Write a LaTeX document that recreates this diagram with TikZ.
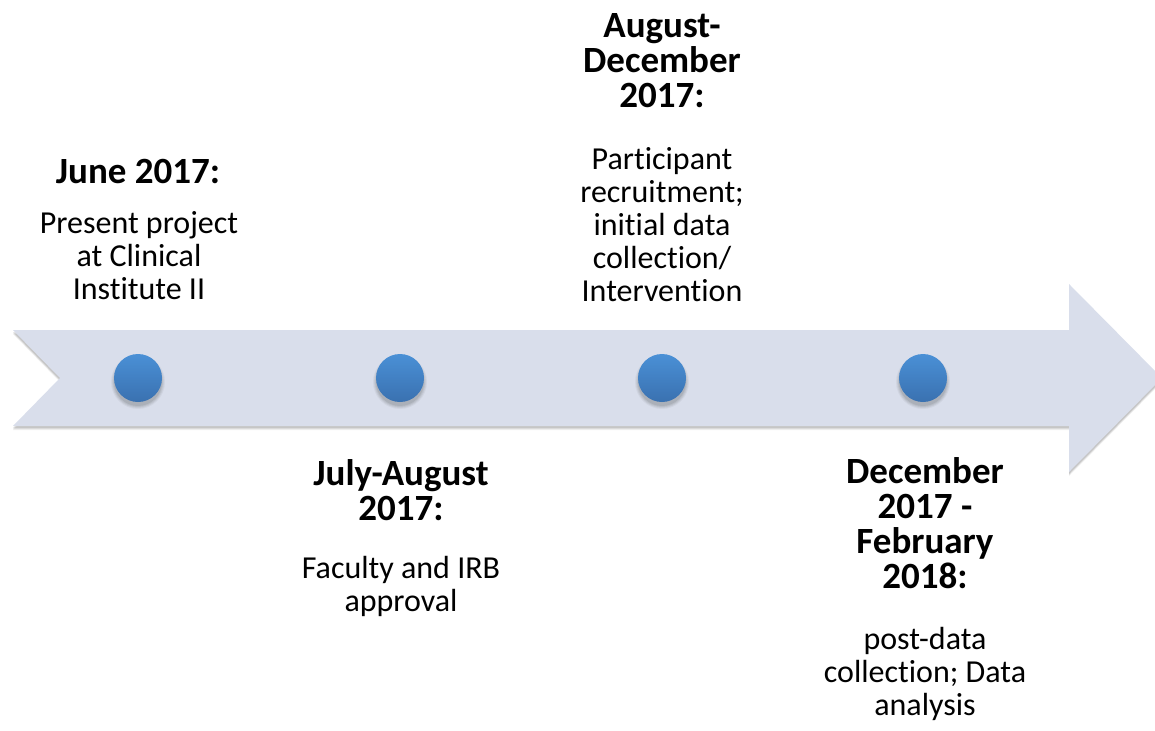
\documentclass[tikz,border=0pt]{standalone}
\usepackage{fontspec}
\setmainfont{Carlito}[Ligatures=NoCommon]
\definecolor{band}{HTML}{D9DEEB}
\definecolor{dotTop}{HTML}{4A90D6}
\definecolor{dotBot}{HTML}{3A71B0}
\tikzset{
  x=1pt, y=-1pt,
  dot/.style={circle, minimum size=48pt, inner sep=0pt,
    top color=dotTop, bottom color=dotBot},
  headline/.style={anchor=base, inner sep=0pt, align=center,
    font=\fontsize{37}{35}\selectfont\bfseries},
  detail/.style={anchor=base, inner sep=0pt, align=center,
    font=\fontsize{32}{33}\selectfont},
}
\begin{document}
\begin{tikzpicture}
\useasboundingbox (0,0) rectangle (1155,730);
\clip (0,0) rectangle (1155,730);
% timeline arrow with soft shadow
\foreach \d/\o in {4/0.06,3/0.08,2/0.10}{
  \fill[black, opacity=\o, shift={(0,\d)}]
    (13,330) -- (1069,330) -- (1069,284) -- (1162,378) -- (1069,472)
    -- (1069,426) -- (13,426) -- (60,378) -- cycle;
}
\fill[band] (13,330) -- (1069,330) -- (1069,284) -- (1162,378) -- (1069,472)
  -- (1069,426) -- (13,426) -- (60,378) -- cycle;
% soft shadows under the milestone dots
\foreach \cx in {138,400,662,923}{
  \foreach \r/\o in {27/0.04,26/0.05,25/0.06,24/0.07}{
    \fill[black, opacity=\o] (\cx,382) circle[radius=\r];
  }
}
% milestones
\node[dot] (m1) at (138,378) {};
\node[dot] (m2) at (400,378) {};
\node[dot] (m3) at (662,378) {};
\node[dot] (m4) at (923,378) {};
% labels above (placed on the baseline of their last line)
\node[headline] (t1) at (138,183) {June 2017:};
\node[detail] (d1) at (139,299) {Present project\\at Clinical\\Institute II};
\node[headline] (t3) at (662,108) {August-\\December\\2017:};
\node[detail] (d3) at (662,301) {Participant\\recruitment;\\initial data\\collection/\\Intervention};
% labels below
\node[headline] (t2) at (401,520) {July-August\\2017:};
\node[detail] (d2) at (401,611) {Faculty and IRB\\approval};
\node[headline] (t4) at (925,588) {December\\2017 -\\February\\2018:};
\node[detail] (d4) at (925,715) {post-data\\collection; Data\\analysis};
\end{tikzpicture}
\end{document}
